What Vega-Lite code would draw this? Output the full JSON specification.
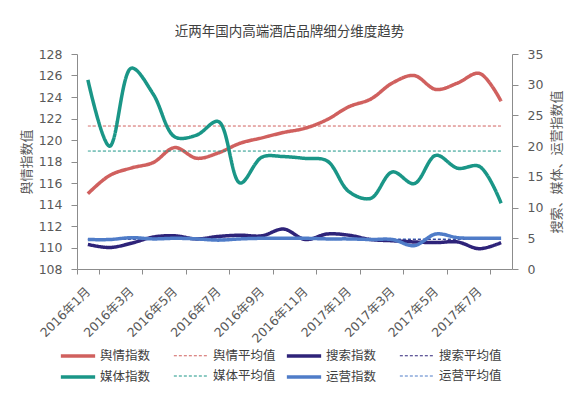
{
  "$schema": "https://vega.github.io/schema/vega-lite/v6.json",
  "width": 435,
  "height": 215,
  "autosize": {"type": "none"},
  "padding": {"left": 77, "top": 54, "right": 68, "bottom": 129},
  "background": "white",
  "title": {"text": "近两年国内高端酒店品牌细分维度趋势", "fontSize": 13.5, "fontWeight": "normal", "font": "Noto Sans CJK SC", "color": "#404040", "offset": 10, "dx": -5},
  "config": {
    "view": {"stroke": null},
    "axis": {"grid": false, "domainColor": "#8c8c8c", "tickColor": "#8c8c8c", "labelColor": "#595959", "titleColor": "#595959", "labelFont": "DejaVu Sans, Noto Sans CJK SC", "titleFont": "Noto Sans CJK SC", "titleFontWeight": "normal", "labelFontSize": 12.5, "titleFontSize": 13, "tickSize": 6}
  },
  "datasets": {
    "rows": [
      {"month": "2016年1月", "series": "舆情指数", "value": 115.0},
      {"month": "2016年2月", "series": "舆情指数", "value": 116.7},
      {"month": "2016年3月", "series": "舆情指数", "value": 117.4},
      {"month": "2016年4月", "series": "舆情指数", "value": 117.9},
      {"month": "2016年5月", "series": "舆情指数", "value": 119.3},
      {"month": "2016年6月", "series": "舆情指数", "value": 118.3},
      {"month": "2016年7月", "series": "舆情指数", "value": 118.8},
      {"month": "2016年8月", "series": "舆情指数", "value": 119.7},
      {"month": "2016年9月", "series": "舆情指数", "value": 120.2},
      {"month": "2016年10月", "series": "舆情指数", "value": 120.7},
      {"month": "2016年11月", "series": "舆情指数", "value": 121.1},
      {"month": "2016年12月", "series": "舆情指数", "value": 121.9},
      {"month": "2017年1月", "series": "舆情指数", "value": 123.1},
      {"month": "2017年2月", "series": "舆情指数", "value": 123.8},
      {"month": "2017年3月", "series": "舆情指数", "value": 125.3},
      {"month": "2017年4月", "series": "舆情指数", "value": 126.0},
      {"month": "2017年5月", "series": "舆情指数", "value": 124.7},
      {"month": "2017年6月", "series": "舆情指数", "value": 125.3},
      {"month": "2017年7月", "series": "舆情指数", "value": 126.2},
      {"month": "2017年8月", "series": "舆情指数", "value": 123.6},
      {"month": "2016年1月", "series": "舆情平均值", "value": 121.3},
      {"month": "2016年2月", "series": "舆情平均值", "value": 121.3},
      {"month": "2016年3月", "series": "舆情平均值", "value": 121.3},
      {"month": "2016年4月", "series": "舆情平均值", "value": 121.3},
      {"month": "2016年5月", "series": "舆情平均值", "value": 121.3},
      {"month": "2016年6月", "series": "舆情平均值", "value": 121.3},
      {"month": "2016年7月", "series": "舆情平均值", "value": 121.3},
      {"month": "2016年8月", "series": "舆情平均值", "value": 121.3},
      {"month": "2016年9月", "series": "舆情平均值", "value": 121.3},
      {"month": "2016年10月", "series": "舆情平均值", "value": 121.3},
      {"month": "2016年11月", "series": "舆情平均值", "value": 121.3},
      {"month": "2016年12月", "series": "舆情平均值", "value": 121.3},
      {"month": "2017年1月", "series": "舆情平均值", "value": 121.3},
      {"month": "2017年2月", "series": "舆情平均值", "value": 121.3},
      {"month": "2017年3月", "series": "舆情平均值", "value": 121.3},
      {"month": "2017年4月", "series": "舆情平均值", "value": 121.3},
      {"month": "2017年5月", "series": "舆情平均值", "value": 121.3},
      {"month": "2017年6月", "series": "舆情平均值", "value": 121.3},
      {"month": "2017年7月", "series": "舆情平均值", "value": 121.3},
      {"month": "2017年8月", "series": "舆情平均值", "value": 121.3},
      {"month": "2016年1月", "series": "媒体指数", "value": 30.8},
      {"month": "2016年2月", "series": "媒体指数", "value": 20.0},
      {"month": "2016年3月", "series": "媒体指数", "value": 32.7},
      {"month": "2016年4月", "series": "媒体指数", "value": 28.5},
      {"month": "2016年5月", "series": "媒体指数", "value": 21.5},
      {"month": "2016年6月", "series": "媒体指数", "value": 21.8},
      {"month": "2016年7月", "series": "媒体指数", "value": 24.0},
      {"month": "2016年8月", "series": "媒体指数", "value": 14.0},
      {"month": "2016年9月", "series": "媒体指数", "value": 18.2},
      {"month": "2016年10月", "series": "媒体指数", "value": 18.3},
      {"month": "2016年11月", "series": "媒体指数", "value": 18.0},
      {"month": "2016年12月", "series": "媒体指数", "value": 17.6},
      {"month": "2017年1月", "series": "媒体指数", "value": 12.6},
      {"month": "2017年2月", "series": "媒体指数", "value": 11.5},
      {"month": "2017年3月", "series": "媒体指数", "value": 15.8},
      {"month": "2017年4月", "series": "媒体指数", "value": 13.9},
      {"month": "2017年5月", "series": "媒体指数", "value": 18.5},
      {"month": "2017年6月", "series": "媒体指数", "value": 16.4},
      {"month": "2017年7月", "series": "媒体指数", "value": 16.7},
      {"month": "2017年8月", "series": "媒体指数", "value": 10.7},
      {"month": "2016年1月", "series": "媒体平均值", "value": 19.2},
      {"month": "2016年2月", "series": "媒体平均值", "value": 19.2},
      {"month": "2016年3月", "series": "媒体平均值", "value": 19.2},
      {"month": "2016年4月", "series": "媒体平均值", "value": 19.2},
      {"month": "2016年5月", "series": "媒体平均值", "value": 19.2},
      {"month": "2016年6月", "series": "媒体平均值", "value": 19.2},
      {"month": "2016年7月", "series": "媒体平均值", "value": 19.2},
      {"month": "2016年8月", "series": "媒体平均值", "value": 19.2},
      {"month": "2016年9月", "series": "媒体平均值", "value": 19.2},
      {"month": "2016年10月", "series": "媒体平均值", "value": 19.2},
      {"month": "2016年11月", "series": "媒体平均值", "value": 19.2},
      {"month": "2016年12月", "series": "媒体平均值", "value": 19.2},
      {"month": "2017年1月", "series": "媒体平均值", "value": 19.2},
      {"month": "2017年2月", "series": "媒体平均值", "value": 19.2},
      {"month": "2017年3月", "series": "媒体平均值", "value": 19.2},
      {"month": "2017年4月", "series": "媒体平均值", "value": 19.2},
      {"month": "2017年5月", "series": "媒体平均值", "value": 19.2},
      {"month": "2017年6月", "series": "媒体平均值", "value": 19.2},
      {"month": "2017年7月", "series": "媒体平均值", "value": 19.2},
      {"month": "2017年8月", "series": "媒体平均值", "value": 19.2},
      {"month": "2016年1月", "series": "搜索指数", "value": 4.0},
      {"month": "2016年2月", "series": "搜索指数", "value": 3.5},
      {"month": "2016年3月", "series": "搜索指数", "value": 4.2},
      {"month": "2016年4月", "series": "搜索指数", "value": 5.2},
      {"month": "2016年5月", "series": "搜索指数", "value": 5.4},
      {"month": "2016年6月", "series": "搜索指数", "value": 4.9},
      {"month": "2016年7月", "series": "搜索指数", "value": 5.3},
      {"month": "2016年8月", "series": "搜索指数", "value": 5.5},
      {"month": "2016年9月", "series": "搜索指数", "value": 5.4},
      {"month": "2016年10月", "series": "搜索指数", "value": 6.5},
      {"month": "2016年11月", "series": "搜索指数", "value": 4.8},
      {"month": "2016年12月", "series": "搜索指数", "value": 5.7},
      {"month": "2017年1月", "series": "搜索指数", "value": 5.5},
      {"month": "2017年2月", "series": "搜索指数", "value": 4.8},
      {"month": "2017年3月", "series": "搜索指数", "value": 4.6},
      {"month": "2017年4月", "series": "搜索指数", "value": 4.4},
      {"month": "2017年5月", "series": "搜索指数", "value": 4.3},
      {"month": "2017年6月", "series": "搜索指数", "value": 4.4},
      {"month": "2017年7月", "series": "搜索指数", "value": 3.3},
      {"month": "2017年8月", "series": "搜索指数", "value": 4.3},
      {"month": "2016年1月", "series": "搜索平均值", "value": 4.8},
      {"month": "2016年2月", "series": "搜索平均值", "value": 4.8},
      {"month": "2016年3月", "series": "搜索平均值", "value": 4.8},
      {"month": "2016年4月", "series": "搜索平均值", "value": 4.8},
      {"month": "2016年5月", "series": "搜索平均值", "value": 4.8},
      {"month": "2016年6月", "series": "搜索平均值", "value": 4.8},
      {"month": "2016年7月", "series": "搜索平均值", "value": 4.8},
      {"month": "2016年8月", "series": "搜索平均值", "value": 4.8},
      {"month": "2016年9月", "series": "搜索平均值", "value": 4.8},
      {"month": "2016年10月", "series": "搜索平均值", "value": 4.8},
      {"month": "2016年11月", "series": "搜索平均值", "value": 4.8},
      {"month": "2016年12月", "series": "搜索平均值", "value": 4.8},
      {"month": "2017年1月", "series": "搜索平均值", "value": 4.8},
      {"month": "2017年2月", "series": "搜索平均值", "value": 4.8},
      {"month": "2017年3月", "series": "搜索平均值", "value": 4.8},
      {"month": "2017年4月", "series": "搜索平均值", "value": 4.8},
      {"month": "2017年5月", "series": "搜索平均值", "value": 4.8},
      {"month": "2017年6月", "series": "搜索平均值", "value": 4.8},
      {"month": "2017年7月", "series": "搜索平均值", "value": 4.8},
      {"month": "2017年8月", "series": "搜索平均值", "value": 4.8},
      {"month": "2016年1月", "series": "运营指数", "value": 4.8},
      {"month": "2016年2月", "series": "运营指数", "value": 4.8},
      {"month": "2016年3月", "series": "运营指数", "value": 5.1},
      {"month": "2016年4月", "series": "运营指数", "value": 4.9},
      {"month": "2016年5月", "series": "运营指数", "value": 5.0},
      {"month": "2016年6月", "series": "运营指数", "value": 4.9},
      {"month": "2016年7月", "series": "运营指数", "value": 4.7},
      {"month": "2016年8月", "series": "运营指数", "value": 4.9},
      {"month": "2016年9月", "series": "运营指数", "value": 5.0},
      {"month": "2016年10月", "series": "运营指数", "value": 5.0},
      {"month": "2016年11月", "series": "运营指数", "value": 5.0},
      {"month": "2016年12月", "series": "运营指数", "value": 4.9},
      {"month": "2017年1月", "series": "运营指数", "value": 4.9},
      {"month": "2017年2月", "series": "运营指数", "value": 4.8},
      {"month": "2017年3月", "series": "运营指数", "value": 4.8},
      {"month": "2017年4月", "series": "运营指数", "value": 3.8},
      {"month": "2017年5月", "series": "运营指数", "value": 5.7},
      {"month": "2017年6月", "series": "运营指数", "value": 5.1},
      {"month": "2017年7月", "series": "运营指数", "value": 5.0},
      {"month": "2017年8月", "series": "运营指数", "value": 5.0},
      {"month": "2016年1月", "series": "运营平均值", "value": 4.9},
      {"month": "2016年2月", "series": "运营平均值", "value": 4.9},
      {"month": "2016年3月", "series": "运营平均值", "value": 4.9},
      {"month": "2016年4月", "series": "运营平均值", "value": 4.9},
      {"month": "2016年5月", "series": "运营平均值", "value": 4.9},
      {"month": "2016年6月", "series": "运营平均值", "value": 4.9},
      {"month": "2016年7月", "series": "运营平均值", "value": 4.9},
      {"month": "2016年8月", "series": "运营平均值", "value": 4.9},
      {"month": "2016年9月", "series": "运营平均值", "value": 4.9},
      {"month": "2016年10月", "series": "运营平均值", "value": 4.9},
      {"month": "2016年11月", "series": "运营平均值", "value": 4.9},
      {"month": "2016年12月", "series": "运营平均值", "value": 4.9},
      {"month": "2017年1月", "series": "运营平均值", "value": 4.9},
      {"month": "2017年2月", "series": "运营平均值", "value": 4.9},
      {"month": "2017年3月", "series": "运营平均值", "value": 4.9},
      {"month": "2017年4月", "series": "运营平均值", "value": 4.9},
      {"month": "2017年5月", "series": "运营平均值", "value": 4.9},
      {"month": "2017年6月", "series": "运营平均值", "value": 4.9},
      {"month": "2017年7月", "series": "运营平均值", "value": 4.9},
      {"month": "2017年8月", "series": "运营平均值", "value": 4.9}
    ]
  },
  "data": {"name": "rows"},
  "encoding": {
    "x": {
      "field": "month", "type": "nominal",
      "scale": {"type": "band", "paddingInner": 0, "paddingOuter": 0, "domain": ["2016年1月","2016年2月","2016年3月","2016年4月","2016年5月","2016年6月","2016年7月","2016年8月","2016年9月","2016年10月","2016年11月","2016年12月","2017年1月","2017年2月","2017年3月","2017年4月","2017年5月","2017年6月","2017年7月","2017年8月"]},
      "axis": {"title": null, "values": ["2016年1月","2016年3月","2016年5月","2016年7月","2016年9月","2016年11月","2017年1月","2017年3月","2017年5月","2017年7月"], "tickBand": "extent", "labelAngle": -45, "labelAlign": "right", "labelBaseline": "middle", "tickSize": 5, "labelPadding": 15, "labelFontSize": 12.5}
    },
    "color": {
      "field": "series", "type": "nominal",
      "scale": {"domain": ["舆情指数","舆情平均值","搜索指数","搜索平均值","媒体指数","媒体平均值","运营指数","运营平均值"], "range": ["#d0605e","#d0605e","#2e2379","#2e2379","#1a9687","#1a9687","#4f7cc8","#4f7cc8"]},
      "legend": {"title": null, "orient": "none", "direction": "horizontal", "legendX": -13, "legendY": 288, "columns": 4, "gridAlign": "all", "symbolType": "M-1.4,0H1.4", "symbolSize": 600, "labelFontSize": 12.5, "labelFont": "Noto Sans CJK SC", "labelColor": "#404040", "labelOffset": 8, "columnPadding": 3, "rowPadding": 0}
    },
    "strokeDash": {
      "field": "series", "type": "nominal",
      "scale": {"domain": ["舆情指数","舆情平均值","搜索指数","搜索平均值","媒体指数","媒体平均值","运营指数","运营平均值"], "range": [[1,0],[3,2],[1,0],[3,2],[1,0],[3,2],[1,0],[3,2]]},
      "legend": {"title": null}
    },
    "strokeWidth": {
      "field": "series", "type": "nominal",
      "scale": {"type": "ordinal", "domain": ["舆情指数","舆情平均值","搜索指数","搜索平均值","媒体指数","媒体平均值","运营指数","运营平均值"], "range": [3.5,1,3.5,1,3.5,1,3.5,1]},
      "legend": {"title": null}
    }
  },
  "layer": [
    {
      "transform": [{"filter": "datum.series == '舆情指数' || datum.series == '舆情平均值'"}],
      "mark": {"type": "line", "interpolate": "catmull-rom"},
      "encoding": {
        "y": {"field": "value", "type": "quantitative", "scale": {"domain": [108, 128], "nice": false, "zero": false}, "axis": {"title": "舆情指数值", "orient": "left", "values": [108,110,112,114,116,118,120,122,124,126,128], "labelPadding": 9, "titlePadding": 5}}
      }
    },
    {
      "transform": [{"filter": "datum.series != '舆情指数' && datum.series != '舆情平均值'"}],
      "mark": {"type": "line", "interpolate": "catmull-rom"},
      "encoding": {
        "y": {"field": "value", "type": "quantitative", "scale": {"domain": [0, 35], "nice": false}, "axis": {"title": "搜索、媒体、运营指数值", "orient": "right", "values": [0,5,10,15,20,25,30,35], "labelPadding": 9, "titleAngle": 270, "titleBaseline": "top", "titlePadding": 8}}
      }
    }
  ],
  "resolve": {"scale": {"y": "independent"}}
}
